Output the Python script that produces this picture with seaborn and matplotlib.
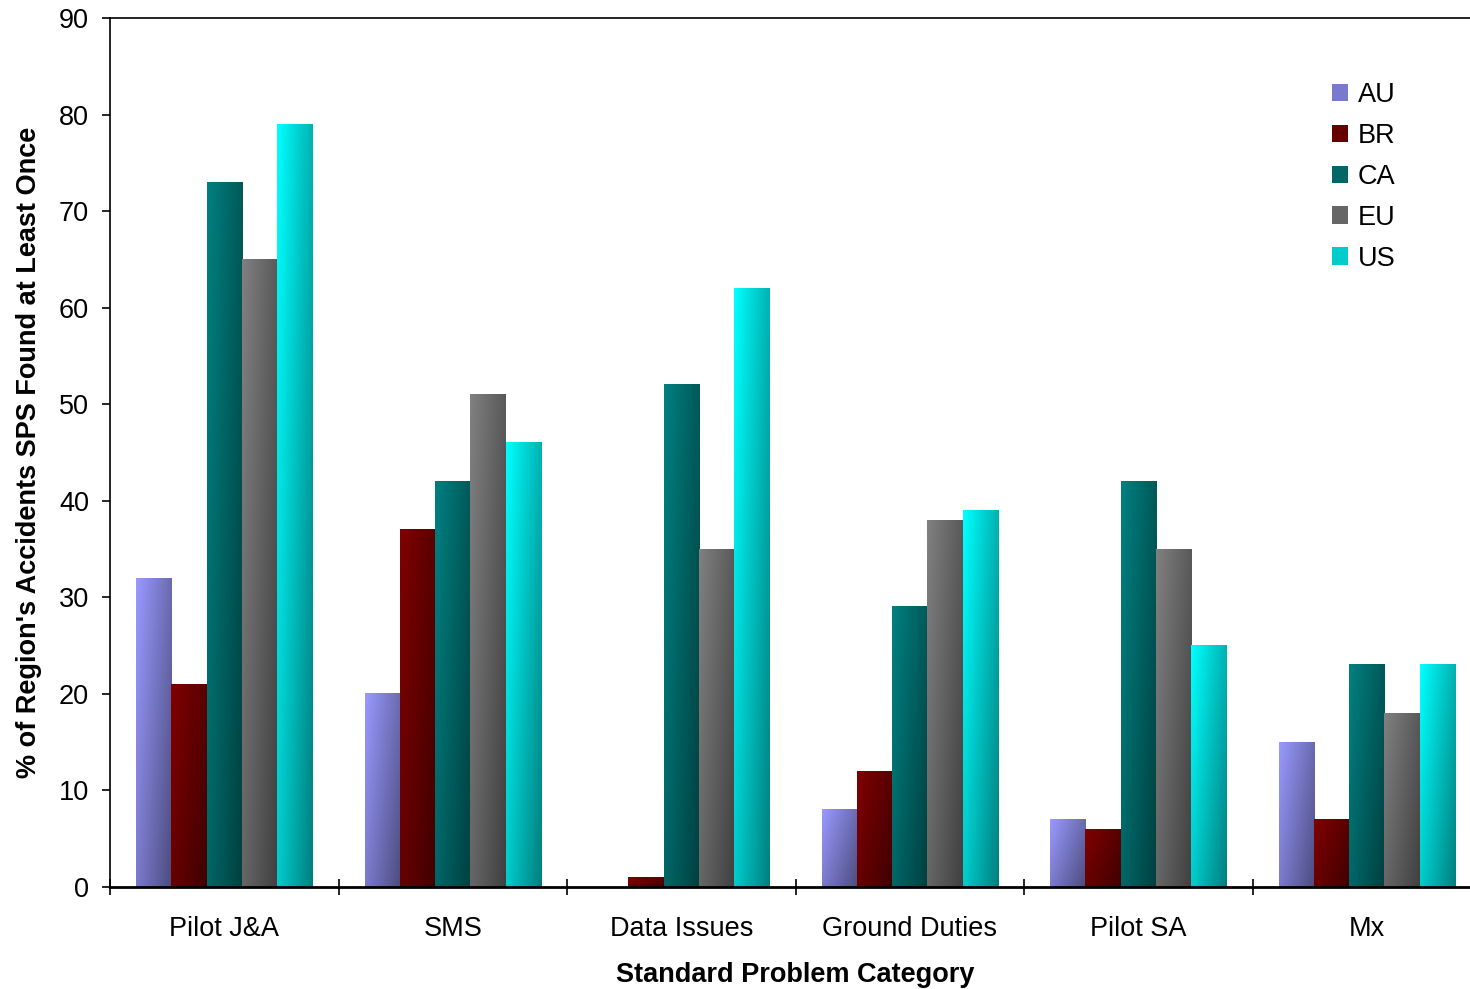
import numpy as np
import pandas as pd
import matplotlib
matplotlib.use("Agg")
import matplotlib.pyplot as plt
import matplotlib.colors as mcolors
from matplotlib.patches import Patch
import seaborn as sns

categories = ['Pilot J&A', 'SMS', 'Data Issues', 'Ground Duties', 'Pilot SA', 'Mx']
regions = ['AU', 'BR', 'CA', 'EU', 'US']
au = [32, 20, 0, 8, 7, 15]
br = [21, 37, 1, 12, 6, 7]
ca = [73, 42, 52, 29, 42, 23]
eu = [65, 51, 35, 38, 35, 18]
us = [79, 46, 62, 39, 25, 23]
region_colors = ['#9999FF', '#800000', '#008080', '#808080', '#00FFFF']

df = pd.DataFrame({
    'category': np.repeat(categories, len(regions)),
    'region': regions * len(categories),
    'value': np.ravel(np.column_stack([au, br, ca, eu, us])),
})

sns.set_style('white')
plt.rcParams['font.family'] = ['Liberation Sans', 'DejaVu Sans']
plt.rcParams['text.color'] = 'black'
plt.rcParams['axes.labelcolor'] = 'black'
plt.rcParams['xtick.color'] = 'black'
plt.rcParams['ytick.color'] = 'black'

fig = plt.figure(figsize=(14.7, 9.89), dpi=100)
ax = fig.add_axes([110 / 1470, 102 / 989, 1371 / 1470, 869 / 989])

sns.barplot(data=df, x='category', y='value', hue='region', order=categories,
            hue_order=regions, palette=region_colors, width=0.77, saturation=1,
            legend=False, errorbar=None, ax=ax)


def gradient_img(color, ny=60, nx=30):
    # diagonal shading: light at top-left, dark at bottom-right
    base = np.array(mcolors.to_rgb(color))
    xs = np.linspace(0, 1, nx)
    ys = np.linspace(0, 1, ny)
    t = (xs[None, :] * 0.6 + ys[:, None] * 0.4)
    return base[None, None, :] * (1 - 0.5 * t[:, :, None])


for cont, col in zip(ax.containers, region_colors):
    img = gradient_img(col)
    for bar in cont:
        x, y = bar.get_x(), bar.get_y()
        w, h = bar.get_width(), bar.get_height()
        bar.set_facecolor('none')
        bar.set_edgecolor('none')
        if h <= 0:
            continue
        ax.imshow(img, extent=[x, x + w, y, y + h], origin='upper',
                  aspect='auto', interpolation='bilinear', zorder=2)

ax.set_xlim(-0.5, len(categories) - 0.5)
ax.set_ylim(0, 90)
ax.set_yticks(range(0, 91, 10))

ax.set_xticks(np.arange(len(categories) + 1) - 0.5, minor=True)
ax.tick_params(axis='x', which='major', length=0, pad=21, labelsize=19.5)
ax.tick_params(axis='x', which='minor', direction='inout', length=12,
               width=1.2, color='black', bottom=True)
ax.tick_params(axis='y', direction='out', length=6, width=1.2, color='black',
               pad=9, labelsize=19.5, left=True)

for side in ['left', 'top', 'bottom', 'right']:
    ax.spines[side].set_color('black')
    ax.spines[side].set_visible(True)
ax.spines['left'].set_linewidth(1.2)
ax.spines['top'].set_linewidth(1.2)
ax.spines['bottom'].set_linewidth(2)

ax.set_xlabel('Standard Problem Category', fontsize=19.5, fontweight='bold', labelpad=14)
ax.set_ylabel("% of Region's Accidents SPS Found at Least Once", fontsize=19.5,
              fontweight='bold', labelpad=12)

handles = [Patch(facecolor=tuple(np.array(mcolors.to_rgb(c)) * 0.8), edgecolor='none')
           for c in region_colors]
ax.legend(handles, regions, loc='upper left', bbox_to_anchor=(1313 / 1470, 1 - 63 / 989),
          bbox_transform=fig.transFigure, frameon=False, fontsize=19.5,
          handlelength=0.6, handleheight=0.6, handletextpad=0.35, labelspacing=0.55,
          borderpad=0.2)

fig.savefig('out.png', dpi=100)
